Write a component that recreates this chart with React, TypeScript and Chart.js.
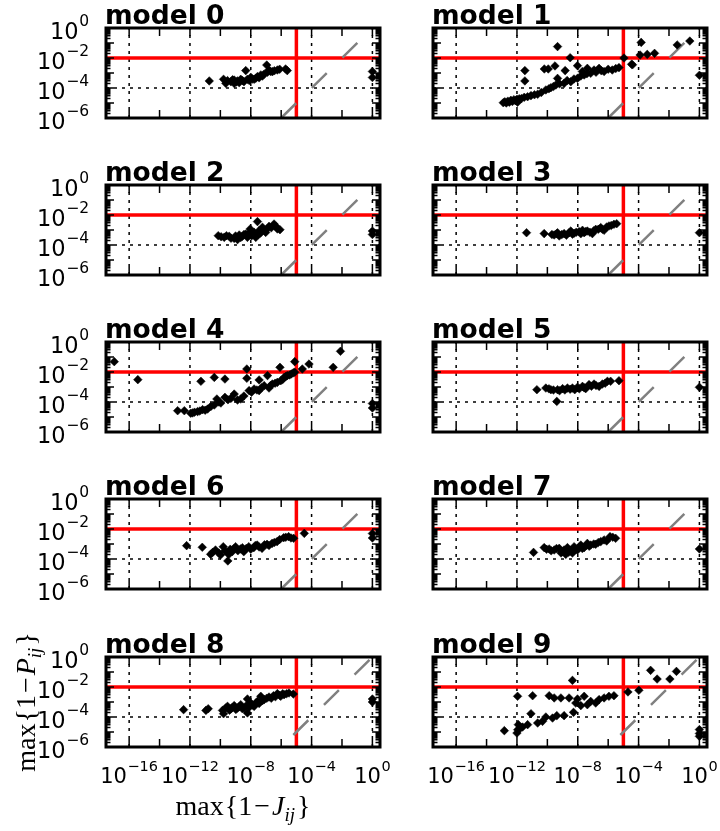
import React, { useEffect, useRef } from "react";
import { Chart, registerables } from "chart.js";

Chart.register(...registerables);

// ---------------- data (log10 values) ----------------
// each pair: [log10 max{1-J_ij}, log10 max{1-P_ij}]
const TITLES = ["model 0", "model 1", "model 2", "model 3", "model 4", "model 5", "model 6", "model 7", "model 8", "model 9"];

const MODEL_0: [number, number][] = [
  [-10.73, -3.53], [-9.79, -3.42], [-9.64, -3.69], [-9.53, -3.51], [-9.31, -3.58], [-9.2, -3.45], [-9.09, -3.47],
  [-9.09, -3.69], [-8.95, -3.6], [-8.87, -3.53], [-8.76, -3.64], [-8.66, -3.42], [-8.55, -3.5], [-8.45, -3.58],
  [-8.33, -2.84], [-8.22, -3.42], [-8.1, -3.5], [-8.0, -3.29], [-7.9, -3.4], [-7.78, -3.42], [-7.67, -3.35],
  [-7.56, -3.24], [-7.45, -3.32], [-7.34, -3.13], [-7.23, -3.2], [-7.12, -3.07], [-6.95, -2.47], [-6.9, -2.95],
  [-6.8, -2.8], [-6.7, -2.9], [-6.58, -2.91], [-6.45, -2.85], [-6.25, -2.8], [-6.1, -2.75], [-5.71, -2.73],
  [-5.6, -2.84], [0, -2.9], [0, -3.3],
];
const MODEL_1: [number, number][] = [
  [-12.9, -4.98], [-12.8, -4.92], [-12.7, -5.0], [-12.6, -4.88], [-12.5, -4.95], [-12.4, -4.82], [-12.3, -4.9],
  [-12.2, -4.78], [-12.1, -4.85], [-12.0, -4.75], [-11.96, -4.95], [-11.85, -4.72], [-11.7, -4.7], [-11.52, -4.62],
  [-11.3, -4.58], [-11.08, -4.51], [-10.85, -4.45], [-10.64, -4.42], [-10.4, -4.3], [-10.1, -4.13], [-9.9, -4.05],
  [-9.77, -3.98], [-9.6, -3.9], [-9.44, -3.8], [-9.33, -3.36], [-9.2, -3.72], [-8.9, -3.69], [-8.7, -3.5],
  [-8.46, -3.58], [-8.25, -3.4], [-8.02, -3.36], [-7.8, -3.2], [-7.58, -3.13], [-7.4, -3.05], [-7.15, -3.02],
  [-6.93, -2.8], [-6.8, -2.95], [-6.6, -2.69], [-6.45, -2.85], [-6.27, -2.9], [-6.0, -2.75], [-5.73, -2.8],
  [-5.5, -2.7], [-5.29, -2.64], [-11.48, -2.84], [-11.48, -3.53], [-10.2, -2.73], [-9.94, -2.73], [-9.5, -2.53],
  [-9.33, -1.24], [-8.83, -2.84], [-8.5, -1.98], [-8.02, -2.51], [-7.7, -2.9], [-7.37, -2.69], [-4.96, -2.0],
  [-4.46, -2.42], [-4.4, -2.45], [-3.83, -0.96], [-3.9, -1.8], [-3.43, -1.76], [-2.95, -1.69], [-1.46, -1.13],
  [-0.63, -0.87], [0, -3.15],
];
const MODEL_2: [number, number][] = [
  [-10.14, -3.38], [-9.95, -3.45], [-9.75, -3.49], [-9.6, -3.38], [-9.42, -3.42], [-9.3, -3.55], [-9.09, -3.56],
  [-9.0, -3.4], [-8.87, -3.64], [-8.76, -3.33], [-8.66, -3.5], [-8.55, -3.42], [-8.45, -3.3], [-8.33, -3.27],
  [-8.22, -3.49], [-8.1, -3.2], [-8.04, -2.93], [-7.95, -3.38], [-7.89, -3.33], [-7.78, -3.15], [-7.67, -3.49],
  [-7.56, -2.44], [-7.5, -3.3], [-7.45, -3.04], [-7.35, -3.2], [-7.23, -2.82], [-7.12, -3.0], [-7.02, -3.16],
  [-6.9, -2.9], [-6.8, -2.76], [-6.65, -2.85], [-6.47, -2.6], [-6.35, -2.75], [-6.25, -2.93], [-6.08, -2.98],
  [0, -3.07], [0, -3.3],
];
const MODEL_3: [number, number][] = [
  [-11.37, -3.18], [-10.21, -3.24], [-9.7, -3.3], [-9.55, -3.33], [-9.4, -3.25], [-9.33, -3.18], [-9.22, -3.4],
  [-9.05, -3.3], [-8.9, -3.24], [-8.75, -3.35], [-8.57, -3.18], [-8.46, -3.07], [-8.35, -3.28], [-8.24, -3.22],
  [-8.1, -3.15], [-7.91, -3.11], [-7.8, -3.25], [-7.69, -3.02], [-7.58, -3.18], [-7.48, -3.1], [-7.37, -3.07],
  [-7.2, -3.15], [-7.04, -3.24], [-6.95, -3.05], [-6.82, -2.96], [-6.65, -2.95], [-6.49, -2.84], [-6.38, -2.95],
  [-6.27, -3.02], [-6.1, -2.8], [-5.95, -2.73], [-5.8, -2.7], [-5.62, -2.62], [-5.44, -2.58], [0, -3.18],
];
const MODEL_4: [number, number][] = [
  [-16.98, -1.31], [-15.43, -2.51], [-12.81, -4.58], [-12.37, -4.58], [-11.95, -4.75], [-11.83, -4.73],
  [-11.7, -4.68], [-11.5, -4.64], [-11.35, -4.6], [-11.28, -2.62], [-11.17, -4.51], [-11.0, -4.55], [-10.84, -4.47],
  [-10.62, -4.29], [-10.4, -2.36], [-10.4, -4.2], [-10.23, -3.8], [-10.1, -4.0], [-9.97, -4.07], [-9.7, -2.47],
  [-9.7, -3.69], [-9.5, -3.85], [-9.31, -3.76], [-9.09, -3.47], [-8.87, -3.87], [-8.66, -3.8], [-8.45, -3.6],
  [-8.26, -1.8], [-8.26, -2.42], [-8.11, -3.24], [-7.95, -3.35], [-7.78, -3.13], [-7.6, -3.2], [-7.45, -2.53],
  [-7.45, -3.24], [-7.3, -3.05], [-7.12, -2.91], [-6.9, -2.24], [-6.8, -3.07], [-6.7, -2.9], [-6.58, -2.8],
  [-6.4, -2.75], [-6.25, -2.69], [-6.08, -1.69], [-6.03, -2.58], [-5.9, -2.5], [-5.81, -2.36], [-5.7, -2.3],
  [-5.6, -2.24], [-5.45, -2.2], [-5.33, -2.13], [-5.2, -2.05], [-5.11, -1.31], [-5.11, -2.02], [-4.61, -1.8],
  [-4.17, -1.47], [-2.58, -1.69], [-2.1, -0.62], [0, -4.1], [0, -4.4],
];
const MODEL_5: [number, number][] = [
  [-10.69, -3.18], [-10.1, -3.07], [-9.9, -3.12], [-9.77, -3.18], [-9.6, -3.2], [-9.38, -3.96], [-9.33, -3.18],
  [-9.2, -3.25], [-9.0, -3.11], [-8.85, -3.2], [-8.68, -3.07], [-8.5, -3.15], [-8.35, -3.07], [-8.2, -3.18],
  [-8.02, -3.02], [-7.9, -3.12], [-7.69, -2.96], [-7.58, -3.05], [-7.48, -3.11], [-7.26, -2.84], [-7.1, -2.95],
  [-6.93, -2.8], [-6.8, -2.9], [-6.6, -2.96], [-6.38, -2.8], [-6.2, -2.75], [-6.05, -2.62], [-5.84, -2.62],
  [-5.29, -2.58], [0, -3.02],
];
const MODEL_6: [number, number][] = [
  [-12.22, -3.11], [-11.19, -3.22], [-10.64, -3.69], [-10.5, -3.55], [-10.32, -3.4], [-10.1, -3.6], [-9.99, -3.73],
  [-9.81, -3.18], [-9.7, -3.45], [-9.51, -4.13], [-9.45, -3.7], [-9.35, -3.35], [-9.22, -3.51], [-9.1, -3.3],
  [-9.0, -3.18], [-8.85, -3.45], [-8.68, -3.33], [-8.55, -3.25], [-8.46, -3.51], [-8.3, -3.3], [-8.13, -3.18],
  [-8.0, -3.35], [-7.8, -3.24], [-7.7, -3.1], [-7.58, -3.07], [-7.45, -3.2], [-7.26, -3.29], [-7.1, -3.05],
  [-6.93, -3.02], [-6.8, -3.1], [-6.6, -2.96], [-6.45, -2.9], [-6.27, -2.84], [-6.1, -2.7], [-5.84, -2.58],
  [-5.7, -2.55], [-5.51, -2.51], [-5.35, -2.6], [-5.18, -2.62], [-4.48, -2.29], [0, -2.3], [0, -2.6],
];
const MODEL_7: [number, number][] = [
  [-10.91, -3.56], [-10.21, -3.24], [-10.05, -3.35], [-9.88, -3.33], [-9.75, -3.45], [-9.55, -3.4], [-9.4, -3.3],
  [-9.22, -3.29], [-9.1, -3.6], [-9.0, -3.51], [-8.9, -3.4], [-8.79, -3.69], [-8.68, -3.24], [-8.6, -3.55],
  [-8.46, -3.47], [-8.35, -3.6], [-8.24, -3.18], [-8.13, -3.35], [-8.02, -3.4], [-7.9, -3.2], [-7.8, -3.07],
  [-7.7, -3.3], [-7.58, -3.24], [-7.45, -3.1], [-7.37, -2.96], [-7.25, -3.15], [-7.15, -3.07], [-6.95, -3.0],
  [-6.82, -3.02], [-6.65, -2.9], [-6.49, -2.84], [-6.27, -2.73], [-6.1, -2.8], [-5.88, -2.51], [-5.7, -2.55],
  [-5.51, -2.62], [0, -3.33],
];
const MODEL_8: [number, number][] = [
  [-12.42, -3.51], [-10.95, -3.56], [-10.8, -3.45], [-9.86, -3.56], [-9.79, -3.78], [-9.65, -3.4], [-9.53, -3.29],
  [-9.4, -3.55], [-9.31, -3.47], [-9.2, -3.35], [-9.09, -3.24], [-8.98, -3.5], [-8.87, -3.4], [-8.75, -3.3],
  [-8.66, -3.18], [-8.55, -3.45], [-8.44, -3.4], [-8.3, -3.25], [-8.22, -2.8], [-8.22, -3.73], [-8.1, -3.35],
  [-8.0, -3.07], [-7.9, -3.2], [-7.78, -3.29], [-7.65, -3.05], [-7.56, -2.96], [-7.45, -3.1], [-7.34, -2.62],
  [-7.22, -2.9], [-7.12, -2.84], [-6.95, -2.75], [-6.8, -2.67], [-6.65, -2.75], [-6.51, -2.58], [-6.38, -2.65],
  [-6.25, -2.44], [-6.1, -2.55], [-6.03, -2.62], [-5.9, -2.45], [-5.81, -2.51], [-5.65, -2.45], [-5.49, -2.4],
  [-5.2, -2.47], [0, -2.8], [0, -3.0],
];
const MODEL_9: [number, number][] = [
  [-12.83, -4.91], [-11.96, -2.62], [-11.91, -4.51], [-12.0, -5.07], [-11.95, -4.85], [-11.85, -4.8], [-11.75, -4.7],
  [-11.63, -4.67], [-11.3, -4.51], [-11.08, -3.78], [-10.97, -2.58], [-10.64, -4.4], [-10.32, -4.29], [-10.1, -4.0],
  [-9.88, -2.58], [-9.66, -4.07], [-9.55, -2.73], [-9.38, -3.91], [-9.11, -2.73], [-8.9, -3.91], [-8.57, -2.73],
  [-8.35, -1.56], [-8.28, -3.69], [-8.13, -3.07], [-8.02, -2.8], [-7.8, -3.24], [-7.58, -2.62], [-7.37, -3.18],
  [-7.15, -2.96], [-6.82, -3.07], [-6.6, -2.84], [-6.27, -2.73], [-5.95, -2.62], [-5.62, -2.58], [-4.7, -2.33],
  [-3.98, -2.22], [-3.21, -0.89], [-2.78, -1.47], [-1.94, -1.47], [-1.51, -0.96], [0, -4.84], [0, -5.1], [0, -5.29],
];
const MODEL_POINTS = [MODEL_0, MODEL_1, MODEL_2, MODEL_3, MODEL_4, MODEL_5, MODEL_6, MODEL_7, MODEL_8, MODEL_9];

// reference lines
const J_THRESHOLD = 1e-5;
const P_THRESHOLD = 1e-2;
const DIAG_START_EXP = [-6, -6, -6, -6, -6, -6, -6, -6, -5.2, -5.2];
const DIAG_END_EXP = 0.6;

// axes
const X_MIN_EXP = -17.46;
const X_MAX_EXP = 0.5;
const Y_MIN_EXP = -6;
const Y_MAX_EXP = 0;
const X_LABEL_EXPS = [-16, -12, -8, -4, 0];
const X_TICK_EXPS = [-16, -14, -12, -10, -8, -6, -4, -2, 0];
const Y_LABEL_EXPS = [0, -2, -4, -6];
const Y_MAJOR_EXPS = [0, -1, -2, -3, -4, -5, -6];
const Y_MINOR_MULTS = [2, 3, 4, 5, 6, 7, 8, 9];

// ---------------- layout ----------------
const COL_LEFT = [106, 433];
const ROW_TOP = [28, 185, 342, 499, 657];
const PLOT_W = 274;
const PLOT_H = 90;
const PAD = { left: 100, top: 36, right: 16, bottom: 84 };

const SANS = '"DejaVu Sans"';
const SERIF = '"Liberation Serif"';

type Run = { t: string; font: string; dy?: number; dx?: number };

function runsWidth(ctx: CanvasRenderingContext2D, runs: Run[]) {
  let w = 0;
  for (const r of runs) {
    ctx.font = r.font;
    w += (r.dx || 0) + ctx.measureText(r.t).width;
  }
  return w;
}
function drawRuns(ctx: CanvasRenderingContext2D, runs: Run[], x: number, y: number) {
  let cx = x;
  for (const r of runs) {
    ctx.font = r.font;
    cx += r.dx || 0;
    ctx.fillText(r.t, cx, y + (r.dy || 0));
    cx += ctx.measureText(r.t).width;
  }
}
function powRuns(e: number, big: number): Run[] {
  const sup = e < 0 ? "\u2212" + String(-e) : String(e);
  return [
    { t: "10", font: `${big}px ${SANS}` },
    { t: sup, font: `${big * 0.69}px ${SANS}`, dy: -big * 0.54, dx: 0.5 },
  ];
}
function mathLabel(letter: string): Run[] {
  return [
    { t: "max", font: `28px ${SERIF}` },
    { t: "{", font: `28px ${SERIF}`, dx: 1 },
    { t: "1", font: `28px ${SERIF}` },
    { t: "\u2212", font: `28px ${SERIF}`, dx: 2 },
    { t: letter, font: `italic 28px ${SERIF}`, dx: 2 },
    { t: "ij", font: `italic 19px ${SERIF}`, dy: 6, dx: 0 },
    { t: "}", font: `28px ${SERIF}`, dx: 2 },
  ];
}

function makeDecor(index: number) {
  const col = index % 2;
  const row = Math.floor(index / 2);
  return {
    id: "decor" + index,
    beforeDatasetsDraw(chart: any) {
      const { ctx, chartArea: a, scales } = chart;
      const xs = scales.x;
      const ys = scales.y;
      ctx.save();
      ctx.strokeStyle = "#000";
      ctx.lineWidth = 1.5;
      ctx.setLineDash([3, 5]);
      for (const e of X_LABEL_EXPS) {
        const px = xs.getPixelForValue(Math.pow(10, e));
        ctx.beginPath();
        ctx.moveTo(px, a.bottom);
        ctx.lineTo(px, a.top);
        ctx.stroke();
      }
      for (const e of Y_LABEL_EXPS) {
        const py = ys.getPixelForValue(Math.pow(10, e));
        ctx.beginPath();
        ctx.moveTo(a.left, py);
        ctx.lineTo(a.right, py);
        ctx.stroke();
      }
      ctx.restore();
    },
    afterDatasetsDraw(chart: any) {
      const { ctx, chartArea: a, scales } = chart;
      const xs = scales.x;
      const ys = scales.y;
      ctx.save();
      ctx.setLineDash([]);
      ctx.strokeStyle = "#000";
      // ticks
      ctx.lineWidth = 1.5;
      ctx.beginPath();
      for (const e of X_TICK_EXPS) {
        const px = xs.getPixelForValue(Math.pow(10, e));
        ctx.moveTo(px, a.bottom);
        ctx.lineTo(px, a.bottom - 8);
        ctx.moveTo(px, a.top);
        ctx.lineTo(px, a.top + 8);
      }
      for (const e of Y_MAJOR_EXPS) {
        const py = ys.getPixelForValue(Math.pow(10, e));
        ctx.moveTo(a.left, py);
        ctx.lineTo(a.left + 8, py);
        ctx.moveTo(a.right, py);
        ctx.lineTo(a.right - 8, py);
        if (e < 0) {
          for (const m of Y_MINOR_MULTS) {
            const pm = ys.getPixelForValue(m * Math.pow(10, e));
            ctx.moveTo(a.left, pm);
            ctx.lineTo(a.left + 4.5, pm);
            ctx.moveTo(a.right, pm);
            ctx.lineTo(a.right - 4.5, pm);
          }
        }
      }
      ctx.stroke();
      // frame
      ctx.lineWidth = 3;
      ctx.strokeRect(a.left, a.top, a.right - a.left, a.bottom - a.top);

      ctx.fillStyle = "#000";
      ctx.textBaseline = "alphabetic";
      ctx.textAlign = "left";
      // y tick labels
      if (col === 0) {
        for (const e of Y_LABEL_EXPS) {
          const py = ys.getPixelForValue(Math.pow(10, e));
          const runs = powRuns(e, 22.5);
          const w = runsWidth(ctx, runs);
          drawRuns(ctx, runs, a.left - 17 - w, py + 10.5);
        }
      }
      // x tick labels
      if (row === 4) {
        for (const e of X_LABEL_EXPS) {
          const px = xs.getPixelForValue(Math.pow(10, e));
          const runs = powRuns(e, 21);
          const w = runsWidth(ctx, runs);
          drawRuns(ctx, runs, px - w / 2, a.bottom + 35.5);
        }
      }
      // title
      ctx.font = `bold 26.5px ${SANS}`;
      ctx.fillText(TITLES[index], a.left - 1, a.top - 4.5);
      // axis labels
      if (index === 8) {
        const xr = mathLabel("J");
        const xw = runsWidth(ctx, xr);
        drawRuns(ctx, xr, (a.left + a.right) / 2 - xw / 2, a.bottom + 68);
        const yr = mathLabel("P");
        const yw = runsWidth(ctx, yr);
        ctx.save();
        ctx.translate(a.left - 71, (a.top + a.bottom) / 2);
        ctx.rotate(-Math.PI / 2);
        drawRuns(ctx, yr, -yw / 2, 0);
        ctx.restore();
      }
      ctx.restore();
    },
  };
}

function Panel({ index }: { index: number }) {
  const ref = useRef<HTMLCanvasElement | null>(null);
  const col = index % 2;
  const row = Math.floor(index / 2);
  const left = COL_LEFT[col] - PAD.left;
  const top = ROW_TOP[row] - PAD.top;
  const width = PLOT_W + PAD.left + PAD.right;
  const height = PLOT_H + PAD.top + PAD.bottom;

  useEffect(() => {
    const canvas = ref.current;
    if (!canvas) return;
    const pts = MODEL_POINTS[index].map(([lj, lp]) => ({ x: Math.pow(10, lj), y: Math.pow(10, lp) }));
    const ds = DIAG_START_EXP[index];
    const chart = new Chart(canvas, {
      type: "scatter",
      data: {
        datasets: [
          {
            label: "pairs",
            data: pts,
            pointStyle: "rectRot",
            pointRadius: 4.3,
            backgroundColor: "#000",
            borderColor: "#000",
            borderWidth: 0.5,
            showLine: false,
            order: 0,
          },
          {
            label: "diagonal",
            data: [
              { x: Math.pow(10, ds), y: Math.pow(10, ds) },
              { x: Math.pow(10, DIAG_END_EXP), y: Math.pow(10, DIAG_END_EXP) },
            ],
            showLine: true,
            borderColor: "#808080",
            borderWidth: 2.5,
            borderDash: [21, 22],
            pointRadius: 0,
            order: 1,
          },
          {
            label: "P threshold",
            data: [
              { x: Math.pow(10, X_MIN_EXP), y: P_THRESHOLD },
              { x: Math.pow(10, X_MAX_EXP), y: P_THRESHOLD },
            ],
            showLine: true,
            borderColor: "#ff0000",
            borderWidth: 3.5,
            pointRadius: 0,
            order: 2,
          },
          {
            label: "J threshold",
            data: [
              { x: J_THRESHOLD, y: Math.pow(10, Y_MIN_EXP) },
              { x: J_THRESHOLD, y: Math.pow(10, Y_MAX_EXP) },
            ],
            showLine: true,
            borderColor: "#ff0000",
            borderWidth: 3.5,
            pointRadius: 0,
            order: 2,
          },
        ],
      },
      options: {
        responsive: false,
        maintainAspectRatio: false,
        animation: false,
        events: [],
        layout: { padding: PAD },
        plugins: { legend: { display: false }, tooltip: { enabled: false } },
        scales: {
          x: { type: "logarithmic", min: Math.pow(10, X_MIN_EXP), max: Math.pow(10, X_MAX_EXP), display: false },
          y: { type: "logarithmic", min: Math.pow(10, Y_MIN_EXP), max: Math.pow(10, Y_MAX_EXP), display: false },
        },
      },
      plugins: [makeDecor(index)],
    } as any);
    return () => chart.destroy();
  }, [index]);

  return (
    <canvas
      ref={ref}
      width={width}
      height={height}
      style={{ position: "absolute", left, top, width, height }}
    />
  );
}

export default function App() {
  return (
    <div style={{ position: "absolute", left: 0, top: 0, width: 720, height: 831, background: "#fff", overflow: "hidden" }}>
      {TITLES.map((_, i) => (
        <Panel key={i} index={i} />
      ))}
    </div>
  );
}
